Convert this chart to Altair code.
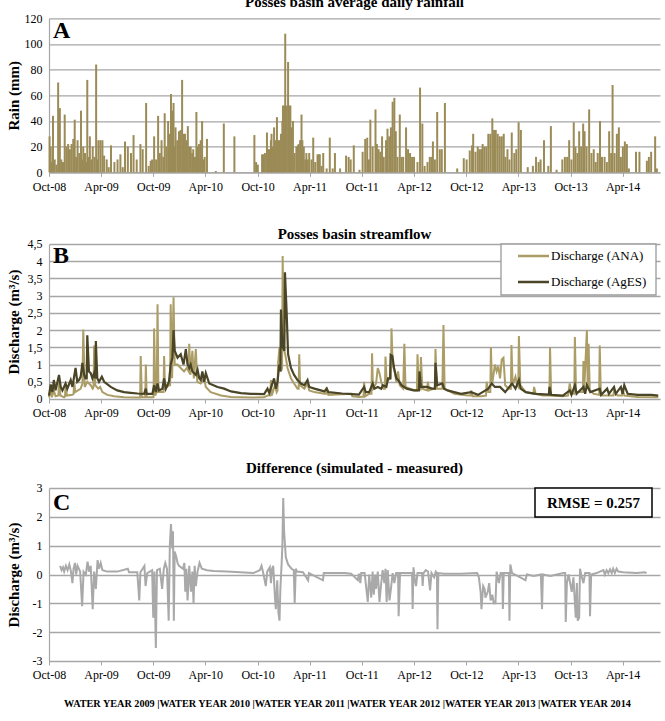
import altair as alt
import pandas as pd

START = pd.Timestamp("2008-10-01")
END = pd.Timestamp("2014-08-10")

# ---- Panel A: daily rainfall (day since 2008-10-01, mm) ----
rain = [
    (2, 28), (6, 20), (10, 8), (14, 44), (20, 10), (26, 6), (32, 70), (38, 50), (43, 10), (49, 8),
    (55, 45), (61, 20), (67, 22), (73, 18), (79, 22), (85, 26), (90, 41), (95, 12), (100, 25),
    (106, 15), (112, 48), (116, 10), (120, 20), (126, 15), (130, 8), (134, 72), (139, 12), (143, 28),
    (148, 10), (153, 20), (159, 12), (165, 84), (169, 10), (173, 25), (180, 25), (187, 25), (193, 13),
    (202, 10), (209, 4), (217, 21), (229, 8), (240, 10), (250, 14), (258, 4), (266, 24), (276, 20),
    (287, 15), (296, 29), (307, 10), (320, 22), (328, 18), (340, 54), (349, 5), (356, 9), (361, 10),
    (368, 28), (375, 10), (382, 44), (388, 15), (394, 25), (400, 12), (405, 46), (411, 20), (417, 40),
    (423, 30), (427, 61), (431, 48), (436, 54), (440, 20), (443, 35), (449, 25), (455, 32), (461, 33),
    (466, 72), (471, 30), (476, 30), (482, 25), (486, 36), (491, 20), (496, 20), (501, 15), (505, 18),
    (511, 12), (516, 47), (521, 20), (525, 22), (531, 25), (536, 40), (540, 10), (545, 12), (553, 26),
    (584, 1), (612, 38), (649, 28), (719, 29), (725, 8), (731, 6), (746, 14), (751, 14), (756, 15),
    (763, 31), (767, 18), (772, 18), (777, 25), (779, 30), (784, 20), (788, 35), (793, 25), (798, 43),
    (803, 25), (807, 25), (812, 30), (817, 40), (819, 52), (823, 52), (827, 108), (832, 52), (837, 86),
    (841, 52), (845, 52), (850, 35), (854, 40), (860, 15), (866, 20), (871, 21), (874, 22), (879, 25),
    (884, 45), (887, 25), (892, 20), (897, 10), (901, 15), (906, 10), (911, 15), (919, 10), (925, 27),
    (932, 8), (940, 14), (945, 14), (948, 14), (954, 5), (960, 15), (972, 3), (983, 27), (993, 3),
    (1001, 15), (1019, 3), (1040, 13), (1049, 12), (1056, 10), (1067, 21), (1087, 2), (1098, 16),
    (1107, 26), (1114, 27), (1120, 10), (1125, 41), (1133, 20), (1143, 49), (1148, 22), (1154, 18),
    (1160, 16), (1166, 28), (1172, 12), (1180, 25), (1185, 34), (1191, 28), (1197, 35), (1203, 55),
    (1209, 58), (1214, 32), (1220, 12), (1228, 45), (1234, 12), (1240, 12), (1250, 35), (1257, 18),
    (1264, 15), (1271, 12), (1278, 12), (1290, 8), (1299, 66), (1307, 38), (1315, 5), (1325, 8),
    (1333, 12), (1339, 12), (1344, 24), (1351, 10), (1359, 47), (1368, 18), (1375, 18), (1386, 54),
    (1429, 3), (1452, 11), (1462, 10), (1473, 17), (1481, 21), (1485, 30), (1493, 16), (1501, 20),
    (1507, 18), (1513, 18), (1518, 22), (1524, 20), (1531, 20), (1538, 30), (1545, 30), (1552, 42),
    (1558, 33), (1564, 33), (1571, 30), (1578, 28), (1585, 28), (1592, 30), (1598, 12), (1605, 18),
    (1612, 10), (1620, 31), (1629, 15), (1636, 18), (1644, 39), (1652, 33), (1676, 4), (1694, 5),
    (1705, 12), (1714, 8), (1721, 10), (1733, 25), (1748, 5), (1757, 36), (1777, 2), (1797, 10),
    (1806, 12), (1814, 12), (1821, 25), (1829, 10), (1837, 39), (1843, 20), (1850, 15), (1856, 32),
    (1863, 20), (1870, 38), (1875, 32), (1882, 20), (1891, 49), (1899, 15), (1907, 18), (1914, 8),
    (1921, 15), (1929, 40), (1936, 12), (1945, 12), (1953, 8), (1961, 32), (1968, 15), (1973, 68),
    (1980, 15), (1988, 30), (1995, 35), (2002, 12), (2009, 20), (2016, 24), (2023, 22), (2030, 3),
    (2055, 16), (2067, 16), (2093, 9), (2100, 12), (2108, 16), (2122, 28), (2128, 3),
]

# ---- Panel B: discharge (day, m3/s) ----
ana = [
    (0, 0.05), (6, 0.3), (10, 0.05), (17, 0.25), (23, 0.08), (33, 0.1), (35, 0.6), (40, 0.1),
    (53, 0.05), (56, 0.08), (58, 0.4), (63, 0.1), (82, 0.12), (86, 0.15), (88, 0.5), (92, 0.2),
    (111, 0.3), (117, 0.45), (120, 2.02), (125, 0.35), (134, 0.5), (146, 0.4), (153, 0.3),
    (156, 0.35), (158, 1.55), (162, 0.4), (172, 0.3), (179, 0.35), (187, 0.2), (204, 0.12),
    (228, 0.08), (263, 0.05), (310, 0.04), (319, 0.04), (321, 1.25), (325, 0.05), (337, 0.05),
    (339, 1.0), (342, 0.05), (362, 0.05), (366, 0.06), (368, 2.05), (372, 0.1), (377, 0.2),
    (380, 2.75), (383, 0.2), (397, 0.2), (401, 0.2), (403, 1.25), (406, 0.3), (420, 0.4), (424, 0.4),
    (426, 2.75), (431, 0.6), (436, 2.95), (440, 1.0), (450, 1.0), (461, 0.9), (473, 0.8), (482, 0.9),
    (489, 0.8), (491, 1.6), (495, 0.7), (502, 1.4), (507, 0.6), (514, 1.45), (519, 0.5), (531, 0.45),
    (543, 0.6), (549, 0.35), (566, 0.2), (602, 0.1), (637, 0.06), (707, 0.04), (753, 0.05),
    (765, 0.1), (775, 0.1), (777, 0.55), (780, 0.1), (791, 0.4), (797, 0.2), (800, 0.25), (802, 1.05),
    (807, 1.5), (812, 0.8), (816, 0.9), (818, 4.15), (822, 1.5), (829, 1.2), (835, 0.9), (847, 0.6),
    (858, 0.45), (870, 0.3), (874, 0.3), (876, 1.3), (879, 0.4), (894, 0.3), (905, 0.45), (911, 0.25),
    (929, 0.2), (964, 0.15), (970, 0.15), (972, 0.35), (978, 0.12), (1059, 0.15), (1062, 0.08),
    (1085, 0.06), (1101, 0.07), (1103, 0.5), (1107, 0.08), (1121, 0.15), (1129, 0.15), (1131, 1.33),
    (1134, 0.3), (1145, 0.45), (1151, 0.9), (1157, 0.75), (1163, 0.5), (1171, 0.3), (1176, 0.3),
    (1178, 1.23), (1182, 0.5), (1193, 0.6), (1197, 0.6), (1199, 2.05), (1203, 1.0), (1210, 0.8),
    (1216, 0.5), (1222, 0.8), (1228, 0.4), (1240, 0.3), (1244, 1.6), (1248, 0.35), (1264, 0.3),
    (1282, 0.25), (1288, 0.25), (1290, 1.3), (1295, 0.35), (1300, 0.3), (1302, 1.22), (1307, 0.3),
    (1324, 0.25), (1326, 0.5), (1331, 0.25), (1347, 0.3), (1351, 0.3), (1353, 1.45), (1358, 0.3),
    (1377, 0.3), (1381, 2.15), (1385, 0.3), (1419, 0.15), (1466, 0.1), (1476, 0.1), (1478, 0.25),
    (1483, 0.08), (1514, 0.08), (1530, 0.1), (1532, 0.5), (1538, 0.2), (1545, 0.2), (1547, 1.5),
    (1551, 0.4), (1561, 1.0), (1567, 0.8), (1573, 0.95), (1579, 0.6), (1585, 1.15), (1591, 1.2),
    (1597, 0.4), (1609, 0.3), (1617, 0.3), (1619, 1.57), (1623, 0.4), (1633, 0.65), (1639, 0.4),
    (1643, 0.35), (1645, 1.83), (1650, 0.4), (1669, 0.2), (1696, 0.15), (1698, 0.35), (1704, 0.15),
    (1728, 0.1), (1752, 0.1), (1754, 1.5), (1758, 0.1), (1799, 0.08), (1817, 0.1), (1823, 0.45),
    (1829, 0.15), (1839, 0.15), (1841, 1.8), (1845, 0.2), (1865, 0.2), (1869, 0.2), (1871, 1.1),
    (1874, 0.3), (1883, 2.0), (1886, 0.3), (1889, 1.6), (1893, 0.25), (1907, 0.15), (1926, 0.12),
    (1928, 1.55), (1932, 0.1), (1954, 0.1), (1976, 0.1), (1978, 0.25), (1990, 0.1), (2006, 0.1),
    (2008, 0.3), (2014, 0.1), (2061, 0.06), (2133, 0.05),
]
ages = [
    (0, 0.1), (6, 0.42), (12, 0.2), (17, 0.55), (23, 0.25), (35, 0.7), (41, 0.35), (47, 0.25),
    (58, 0.45), (64, 0.3), (76, 0.55), (82, 0.35), (93, 0.9), (99, 0.5), (105, 0.55), (111, 0.65),
    (117, 1.05), (123, 0.7), (128, 0.6), (132, 0.6), (134, 1.85), (140, 0.8), (146, 0.75), (152, 0.6),
    (158, 0.75), (162, 0.6), (164, 1.68), (169, 0.6), (175, 0.5), (185, 0.65), (193, 0.5), (216, 0.35),
    (239, 0.25), (263, 0.2), (286, 0.18), (310, 0.16), (333, 0.15), (339, 0.3), (342, 0.15),
    (362, 0.15), (368, 0.4), (374, 0.2), (380, 0.45), (385, 0.25), (397, 0.3), (403, 0.6), (409, 0.3),
    (420, 0.5), (426, 1.0), (432, 1.2), (436, 2.0), (440, 1.4), (450, 1.2), (461, 1.3), (471, 1.0),
    (479, 1.45), (485, 1.0), (491, 0.9), (496, 1.0), (502, 0.8), (514, 0.7), (520, 0.85), (526, 0.6),
    (531, 0.55), (537, 0.8), (543, 0.5), (549, 0.75), (561, 0.45), (590, 0.35), (613, 0.3),
    (637, 0.22), (672, 0.17), (707, 0.15), (753, 0.14), (765, 0.3), (771, 0.18), (788, 0.6),
    (794, 0.3), (800, 0.5), (806, 1.0), (810, 0.8), (812, 2.6), (818, 1.5), (824, 1.4), (826, 3.68),
    (832, 2.5), (837, 1.3), (847, 0.9), (858, 0.7), (870, 0.55), (882, 0.45), (894, 0.4), (905, 0.55),
    (911, 0.35), (929, 0.3), (964, 0.22), (972, 0.3), (978, 0.2), (1026, 0.16), (1062, 0.14),
    (1085, 0.13), (1103, 0.35), (1109, 0.2), (1121, 0.2), (1133, 0.45), (1139, 0.3), (1151, 0.35),
    (1163, 0.3), (1169, 0.4), (1181, 0.35), (1187, 0.6), (1194, 0.6), (1196, 1.28), (1202, 1.25),
    (1208, 0.9), (1216, 0.6), (1222, 0.55), (1234, 0.4), (1252, 0.3), (1276, 0.25), (1295, 0.25),
    (1297, 0.8), (1302, 0.35), (1323, 0.35), (1341, 0.3), (1351, 0.3), (1353, 1.05), (1359, 0.4),
    (1377, 0.45), (1383, 0.3), (1395, 0.25), (1442, 0.15), (1478, 0.2), (1502, 0.12), (1538, 0.3),
    (1550, 0.45), (1561, 0.35), (1579, 0.35), (1597, 0.2), (1621, 0.45), (1633, 0.3), (1645, 0.55),
    (1651, 0.3), (1669, 0.2), (1704, 0.15), (1750, 0.13), (1752, 0.35), (1758, 0.12), (1799, 0.1),
    (1823, 0.25), (1829, 0.12), (1841, 0.4), (1847, 0.15), (1871, 0.35), (1877, 0.15), (1883, 0.4),
    (1895, 0.2), (1928, 0.3), (1933, 0.12), (1954, 0.3), (1960, 0.15), (1978, 0.35), (1984, 0.15),
    (2002, 0.35), (2008, 0.15), (2014, 0.4), (2026, 0.15), (2061, 0.12), (2109, 0.12), (2133, 0.1),
]

# ---- Panel C: difference simulated - measured (day, m3/s) ----
diff = [
    (39, 0.3), (44, 0.15), (49, 0.25), (53, 0.1), (59, 0.3), (65, 0.15), (71, 0.35), (77, 0.1),
    (82, -0.3), (86, 0.2), (91, 0.4), (95, 0.0), (100, 0.3), (109, 0.1), (116, -1.1), (121, 0.1),
    (129, 0.0), (135, 0.45), (140, 0.1), (146, 0.3), (153, -1.2), (158, 0.1), (164, -0.5), (170, 0.5),
    (175, 0.2), (181, 0.4), (187, 0.15), (204, 0.1), (239, 0.1), (276, 0.2), (280, 0.08), (309, 0.08),
    (316, -0.9), (320, 0.08), (334, 0.3), (338, -0.4), (344, 0.05), (361, 0.15), (365, -1.5),
    (369, 0.1), (374, -2.55), (378, 0.15), (388, 0.2), (396, -0.5), (402, 0.2), (407, 0.4), (413, 0.2),
    (419, -1.6), (423, 1.0), (427, 1.75), (431, 0.9), (434, 1.5), (437, -1.6), (440, 0.8), (446, 0.6),
    (450, 0.4), (455, 0.3), (469, 0.2), (474, 0.4), (477, -0.6), (481, 0.2), (485, -0.9), (491, 0.3),
    (497, -0.6), (502, 0.1), (506, -1.0), (510, 0.3), (514, -0.4), (520, 0.1), (527, 0.4), (535, 0.2),
    (553, 0.15), (576, 0.12), (622, 0.1), (669, 0.08), (715, 0.05), (738, 0.15), (744, 0.3),
    (750, 0.05), (759, -0.4), (764, 0.1), (773, 0.25), (777, -0.3), (781, 0.2), (785, 0.3), (791, -0.8),
    (794, -1.2), (799, -0.2), (803, -1.3), (807, -1.6), (810, -0.5), (814, 0.3), (817, 1.0), (820, 2.65),
    (823, 1.5), (829, 0.6), (837, 0.35), (849, 0.2), (857, 0.15), (860, -1.0), (864, 0.2), (868, 0.1),
    (889, 0.08), (907, -0.2), (910, 0.05), (959, -0.2), (962, 0.05), (1017, 0.05), (1035, 0.05),
    (1058, 0.03), (1081, -0.2), (1085, 0.03), (1090, -0.3), (1093, 0.05), (1105, 0.05), (1116, -0.95),
    (1121, 0.0), (1128, -0.8), (1133, 0.1), (1137, -0.7), (1142, 0.0), (1145, -0.5), (1151, 0.1),
    (1157, -0.95), (1163, -0.3), (1168, 0.15), (1174, -0.3), (1178, 0.2), (1182, -0.95), (1186, 0.15),
    (1192, -0.9), (1197, -0.5), (1203, 0.05), (1209, -0.3), (1215, 0.05), (1222, 0.05), (1224, -1.45),
    (1229, 0.05), (1250, 0.05), (1271, 0.05), (1273, -1.2), (1276, 0.25), (1281, -0.2), (1285, -0.4),
    (1290, 0.05), (1306, 0.05), (1308, -0.4), (1311, 0.05), (1319, 0.15), (1327, 0.1), (1334, -0.55),
    (1339, 0.05), (1348, -0.1), (1354, 0.1), (1358, 0.05), (1360, -1.9), (1363, 0.05), (1383, 0.03),
    (1441, 0.03), (1499, 0.05), (1505, -0.1), (1511, -0.6),
    (1514, -1.2), (1520, -0.4), (1525, -0.5), (1528, -0.8), (1532, -0.7), (1536, -0.6), (1541, -0.3),
    (1546, -0.9), (1552, -0.7), (1557, -1.0), (1563, -1.0), (1567, 0.1), (1575, -0.3), (1581, 0.05),
    (1587, 0.05), (1589, -1.2), (1592, 0.05), (1608, 0.05), (1610, 0.05), (1612, -1.6), (1615, 0.35),
    (1621, 0.05), (1650, -0.1), (1668, -0.2), (1673, 0.0), (1697, -0.05), (1722, 0.0), (1726, -1.2),
    (1729, 0.0), (1755, -0.05), (1801, 0.05), (1807, 0.05), (1809, -1.65), (1813, -0.3), (1819, 0.0),
    (1830, -0.6), (1836, -0.1), (1844, -1.5), (1848, -0.3), (1851, -1.6), (1856, -1.5), (1859, 0.2),
    (1863, 0.0), (1871, -0.3), (1877, 0.05), (1892, 0.05), (1894, -1.45), (1898, 0.0), (1917, 0.05),
    (1929, 0.1), (1941, 0.15), (1946, 0.0), (1952, 0.15), (1958, 0.05), (1964, 0.18), (1970, 0.05),
    (1975, 0.2), (1981, 0.05), (1987, 0.2), (1993, 0.1), (2010, 0.08), (2057, 0.05), (2086, 0.08),
    (2092, 0.05),
]

rain_ticks = [0, 20, 40, 60, 80, 100, 120]
flow_ticks = [0, 0.5, 1, 1.5, 2, 2.5, 3, 3.5, 4, 4.5]
diff_ticks = [-3, -2, -1, 0, 1, 2, 3]
legend_labels = ["Discharge (ANA)", "Discharge (AgES)"]
water_years = " |".join(f"WATER YEAR {y}" for y in range(2009, 2015))
rmse_text = "RMSE = 0.257"


def frame(points, col):
    return pd.DataFrame({
        "date": [START + pd.Timedelta(days=d) for d, _ in points],
        col: [v for _, v in points],
    })


rain_df = frame(rain, "mm")
rain_df["zero"] = 0
ana_df = frame(ana, "q")
ages_df = frame(ages, "q")
diff_df = frame(diff, "d")

FONT = "Liberation Serif"
GRID = "#a6a6a6"
RAIN_C = "#9b8b57"
ANA_C = "#ab9d65"
AGES_C = "#4a4526"
DIFF_C = "#a9a9a9"
W = 611

tick_dates = []
for y in range(2008, 2015):
    for m in (4, 10):
        if (y == 2008 and m == 4) or (y == 2014 and m == 10):
            continue
        tick_dates.append(alt.DateTime(year=y, month=m, date=1))

xscale = alt.Scale(domain=[START.isoformat(), END.isoformat()], nice=False)


def xaxis(title=None, **kw):
    return alt.Axis(values=tick_dates, format="%b-%y", labelFont=FONT, labelFontSize=12,
                    labelColor="black", grid=False, domainColor=GRID, domainWidth=1.2,
                    tickColor=GRID, tickSize=4, labelPadding=5, labelFlush=False,
                    labelOverlap=False, title=title, **kw)


def yaxis(title, values, label_expr=None):
    kw = dict(values=values, title=title, titleFont=FONT, titleFontSize=15,
              titleFontWeight="bold", titleColor="black", labelFont=FONT, labelFontSize=12,
              labelColor="black", ticks=False, domainColor=GRID, domainWidth=1.2,
              gridColor=GRID, gridWidth=1.3, labelPadding=7, minExtent=26, maxExtent=26,
              titlePadding=2)
    if label_expr:
        kw["labelExpr"] = label_expr
    return alt.Axis(**kw)


def title(text, offset):
    return alt.TitleParams(text=text, font=FONT, fontSize=15, fontWeight="bold", color="black",
                           anchor="middle", offset=offset, baseline="alphabetic")


def letter(ch, y):
    return alt.Chart(pd.DataFrame({"t": [ch]})).mark_text(
        font=FONT, fontSize=24, fontWeight="bold", align="left", baseline="alphabetic",
        color="black").encode(text="t:N", x=alt.value(4), y=alt.value(y))


# Panel A
rain_bars = alt.Chart(rain_df).mark_rule(color=RAIN_C, strokeWidth=2).encode(
    x=alt.X("date:T", scale=xscale, axis=xaxis()),
    y=alt.Y("mm:Q", scale=alt.Scale(domain=[0, 120], nice=False),
            axis=yaxis("Rain (mm)", rain_ticks)),
    y2="zero:Q",
)
panel_a = alt.layer(rain_bars, letter("A", 20)).properties(
    width=W, height=154, title=title("Posses basin average daily rainfall", -10))

# Panel B
flow_y = alt.Y("q:Q", scale=alt.Scale(domain=[0, 4.5], nice=False),
               axis=yaxis("Discharge (m³/s)", flow_ticks,
                          "replace(toString(datum.value), '.', ',')"))
ana_line = alt.Chart(ana_df).mark_line(color=ANA_C, strokeWidth=2).encode(
    x=alt.X("date:T", scale=xscale, axis=xaxis()), y=flow_y)
ages_line = alt.Chart(ages_df).mark_line(color=AGES_C, strokeWidth=2.2).encode(
    x=alt.X("date:T", scale=xscale, axis=xaxis()), y=flow_y)
one = pd.DataFrame({"k": [0]})
leg_box = alt.Chart(one).mark_rect(fill="white", stroke="#9a9a9a", strokeWidth=1.3).encode(
    x=alt.value(452), x2=alt.value(607), y=alt.value(0), y2=alt.value(51))
leg_ana = alt.Chart(one).mark_rule(color=ANA_C, strokeWidth=2.5).encode(
    x=alt.value(469), x2=alt.value(500), y=alt.value(12))
leg_ages = alt.Chart(one).mark_rule(color=AGES_C, strokeWidth=2.5).encode(
    x=alt.value(469), x2=alt.value(500), y=alt.value(38))
leg_t1 = alt.Chart(pd.DataFrame({"t": [legend_labels[0]]})).mark_text(
    font=FONT, fontSize=13, align="left", baseline="middle", color="black").encode(
    text="t:N", x=alt.value(502), y=alt.value(12))
leg_t2 = alt.Chart(pd.DataFrame({"t": [legend_labels[1]]})).mark_text(
    font=FONT, fontSize=13, align="left", baseline="middle", color="black").encode(
    text="t:N", x=alt.value(502), y=alt.value(38))
panel_b = alt.layer(ana_line, ages_line, leg_box, leg_ana, leg_ages, leg_t1, leg_t2,
                    letter("B", 19)).properties(
    width=W, height=155, title=title("Posses basin streamflow", -16.3))

# Panel C
diff_line = alt.Chart(diff_df).mark_line(color=DIFF_C, strokeWidth=2).encode(
    x=alt.X("date:T", scale=xscale,
            axis=xaxis(title=water_years, titleFont=FONT, titleFontSize=10.2,
                       titleFontWeight="bold", titleColor="black", titleX=298, titleY=46,
                       titleAlign="center", titleBaseline="alphabetic")),
    y=alt.Y("d:Q", scale=alt.Scale(domain=[-3, 3], nice=False),
            axis=yaxis("Discharge (m³/s)", diff_ticks,
                       "datum.value < 0 ? '-' + abs(datum.value) : '' + datum.value")),
)
rmse_box = alt.Chart(one).mark_rect(fill="white", stroke="black", strokeWidth=1.5).encode(
    x=alt.value(486), x2=alt.value(603), y=alt.value(0), y2=alt.value(29))
rmse_t = alt.Chart(pd.DataFrame({"t": [rmse_text]})).mark_text(
    font=FONT, fontSize=15, fontWeight="bold", align="center", baseline="middle",
    color="black").encode(text="t:N", x=alt.value(544.5), y=alt.value(15))
panel_c = alt.layer(diff_line, rmse_box, rmse_t, letter("C", 22)).properties(
    width=W, height=173, title=title("Difference (simulated - measured)", -5.6))

chart = alt.vconcat(
    alt.vconcat(panel_a, panel_b, spacing=34.7),
    panel_c,
    spacing=40.7,
).properties(
    padding={"left": 6, "top": -4.7, "right": 0, "bottom": 0},
    background="white",
).configure_view(stroke=None)

chart.save("out.html", embed_options={"renderer": "svg", "actions": False})
